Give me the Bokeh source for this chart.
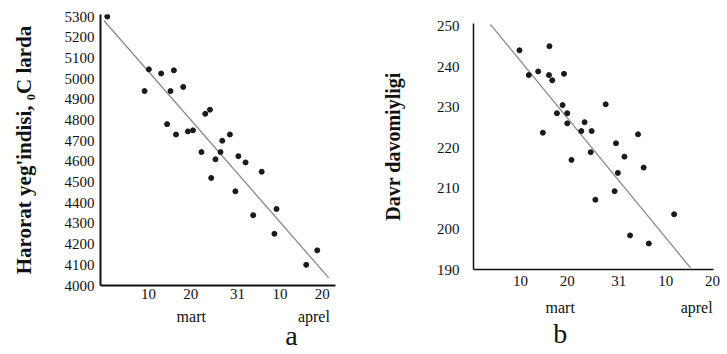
from bokeh.plotting import figure
from bokeh.models import FixedTicker, Range1d, LinearAxis
from bokeh.embed import file_html
from bokeh.resources import INLINE

# ---- data: chart a (day counted from 1 March; 41 = 10 April, 51 = 20 April) ----
a_day = [0.3, 10.1, 13.0, 16.0, 9.1, 15.2, 18.2, 23.4, 24.5, 14.4, 16.5, 19.3, 20.5, 29.2,
         27.4, 22.5, 27.0, 25.8, 31.2, 32.9, 36.7, 24.8, 30.5, 34.7, 40.2, 39.7, 47.2, 49.8]
a_val = [5300, 5045, 5025, 5040, 4940, 4940, 4960, 4830, 4850, 4780, 4730, 4745, 4750, 4730,
         4700, 4645, 4645, 4610, 4625, 4595, 4550, 4520, 4455, 4340, 4370, 4250, 4100, 4170]
a_line_day = [-0.5, 52.5]
a_line_val = [5281, 4037]
a_yticks = [4000, 4100, 4200, 4300, 4400, 4500, 4600, 4700, 4800, 4900, 5000, 5100, 5200, 5300]

# ---- data: chart b ----
b_day = [9.8, 16.2, 11.8, 13.8, 16.1, 16.8, 19.3, 19.0, 17.8, 20.0, 20.0, 28.2, 23.7, 23.0,
         25.2, 14.8, 30.4, 35.1, 25.0, 32.2, 20.9, 36.3, 30.8, 30.1, 26.0, 42.8, 33.4, 37.4]
b_val = [244.0, 245.0, 237.9, 238.8, 237.9, 236.6, 238.2, 230.5, 228.5, 228.5, 226.0, 230.7,
         226.3, 224.1, 224.1, 223.7, 221.1, 223.3, 218.9, 217.8, 217.0, 215.1, 213.8, 209.3,
         207.2, 203.6, 198.4, 196.4]
b_line_day = [3.6, 46.3]
b_line_val = [250.4, 190.4]
b_yticks = [190, 200, 210, 220, 230, 240, 250]

x_tick_days = [10, 20, 31, 41, 51]
x_tick_labels = ["10", "20", "31", "10", "20"]
month_names = ["mart", "aprel"]
a_month_pos = [20.1, 49.0]
b_month_pos = [18.5, 47.6]

FONT = "Liberation Serif"
INK = "#111111"


def style(p, yticks, ytitle, axis_w, ystandoff, xstandoff, title_standoff, title_size):
    p.xgrid.visible = False
    p.ygrid.visible = False
    p.outline_line_color = None
    for ax in (p.xaxis[0], p.yaxis[0]):
        ax.axis_line_color = INK
        ax.axis_line_width = axis_w
        ax.major_tick_line_color = None
        ax.minor_tick_line_color = None
        ax.major_tick_out = 0
        ax.major_tick_in = 0
        ax.minor_tick_out = 0
        ax.minor_tick_in = 0
        ax.major_label_text_font = FONT
        ax.major_label_text_color = INK
        ax.major_label_text_font_size = "15px"
    p.xaxis[0].ticker = FixedTicker(ticks=x_tick_days)
    p.xaxis[0].major_label_overrides = {d: s for d, s in zip(x_tick_days, x_tick_labels)}
    p.xaxis[0].major_label_standoff = xstandoff
    p.yaxis[0].ticker = FixedTicker(ticks=yticks)
    p.yaxis[0].major_label_standoff = ystandoff
    p.yaxis[0].axis_label = ytitle
    p.yaxis[0].axis_label_text_font = FONT
    p.yaxis[0].axis_label_text_font_style = "bold"
    p.yaxis[0].axis_label_text_font_size = title_size
    p.yaxis[0].axis_label_text_color = INK
    p.yaxis[0].axis_label_standoff = title_standoff


def label_axis(p, ticks, labels, size, standoff):
    ax = LinearAxis(ticker=FixedTicker(ticks=ticks),
                    major_label_overrides={t: s for t, s in zip(ticks, labels)})
    ax.axis_line_color = None
    ax.major_tick_line_color = None
    ax.minor_tick_line_color = None
    ax.major_tick_out = 0
    ax.major_tick_in = 0
    ax.minor_tick_out = 0
    ax.minor_tick_in = 0
    ax.major_label_standoff = standoff
    ax.major_label_text_font = FONT
    ax.major_label_text_font_size = size
    ax.major_label_text_color = INK
    p.add_layout(ax, "below")


# ---- chart a ----
pa = figure(width=365, height=354, x_range=Range1d(-1.3, 54.1), y_range=Range1d(4000, 5310),
            output_backend="svg", toolbar_location=None,
            min_border_left=100, min_border_right=30, min_border_top=14, min_border_bottom=69)
style(pa, a_yticks, "Harorat yeg'indisi, \u2080C larda", 2, 6, 3, 26, "21px")
pa.line(a_line_day, a_line_val, line_color="#8a8a8a", line_width=1.3)
pa.scatter(a_day, a_val, size=5, color="#1a1a1a")
label_axis(pa, a_month_pos, month_names, "16px", 6)
label_axis(pa, [43.7], ["a"], "28px", -8)

# ---- chart b ----
pb = figure(width=362, height=354, x_range=Range1d(0.0, 51.2), y_range=Range1d(190, 250.6),
            output_backend="svg", toolbar_location=None,
            min_border_left=108, min_border_right=14, min_border_top=23, min_border_bottom=85)
style(pb, b_yticks, "Davr davomiyligi", 1.5, 14, 6, 30, "20px")
pb.line(b_line_day, b_line_val, line_color="#8a8a8a", line_width=1.3)
pb.scatter(b_day, b_val, size=5, color="#1a1a1a")
label_axis(pb, b_month_pos, month_names, "16px", 10)
label_axis(pb, [18.5], ["b"], "28px", -1)

# two independent roots laid side by side (keeps each plot's own frame geometry)
TEMPLATE = """
{% block postamble %}
<style>
  html, body { margin: 0 !important; padding: 0 !important; }
  body { display: flex !important; flex-direction: row; align-items: flex-start; }
</style>
{% endblock %}
"""
open("out.html", "w").write(file_html([pa, pb], INLINE, template=TEMPLATE))
